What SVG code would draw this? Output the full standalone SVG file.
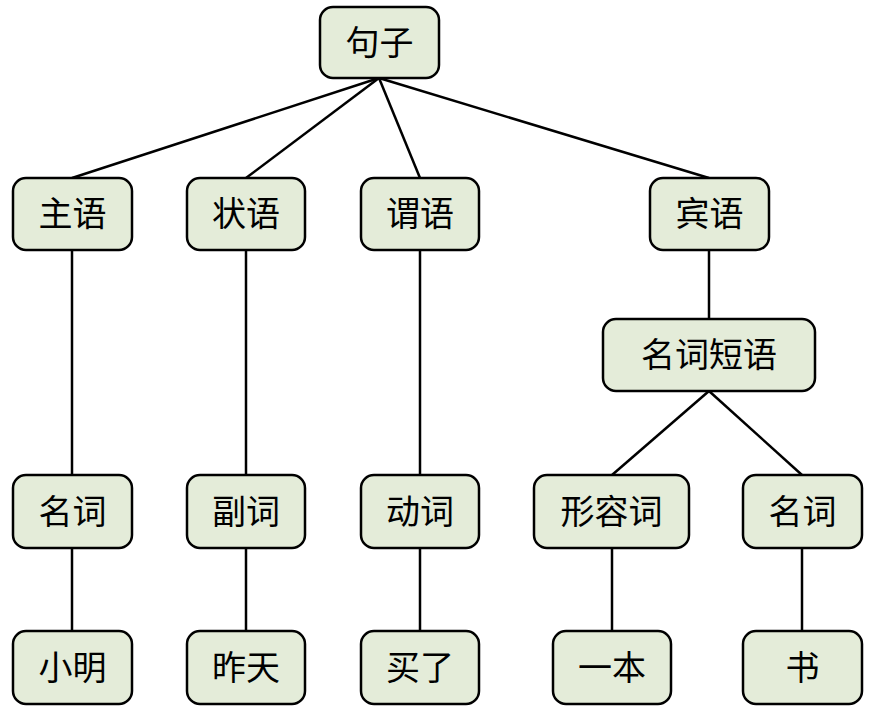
<svg xmlns="http://www.w3.org/2000/svg" width="876" height="718" viewBox="0 0 876 718">
<style>
.n rect{fill:#e4ecd9;stroke:#000;stroke-width:2.5}
.n text{font-family:"Noto Sans CJK SC","Liberation Sans",sans-serif;font-size:34px;fill:#000;text-anchor:middle;dominant-baseline:central}
#edges line{stroke:#000;stroke-width:2.5}
</style>
<rect width="876" height="718" fill="#fff"/>
<g id="edges">
<line x1="379" y1="78" x2="72" y2="178"/>
<line x1="379" y1="78" x2="246" y2="178"/>
<line x1="379" y1="78" x2="420" y2="178"/>
<line x1="379" y1="78" x2="709" y2="178"/>
<line x1="72" y1="250" x2="72" y2="475"/>
<line x1="246" y1="250" x2="246" y2="475"/>
<line x1="420" y1="250" x2="420" y2="475"/>
<line x1="709" y1="250" x2="709" y2="319"/>
<line x1="709" y1="391" x2="612" y2="475"/>
<line x1="709" y1="391" x2="802" y2="475"/>
<line x1="72" y1="548" x2="72" y2="631"/>
<line x1="246" y1="548" x2="246" y2="631"/>
<line x1="420" y1="548" x2="420" y2="631"/>
<line x1="612" y1="548" x2="612" y2="631"/>
<line x1="802" y1="548" x2="802" y2="631"/>
</g>
<g id="juzi" class="n"><rect x="320" y="7" width="119" height="71" rx="13"/><text x="379.5" y="40">句子</text></g>
<g id="zhuyu" class="n"><rect x="13" y="178" width="119" height="72" rx="13"/><text x="72.5" y="211.5">主语</text></g>
<g id="zhuangyu" class="n"><rect x="187" y="178" width="118" height="72" rx="13"/><text x="246" y="211.5">状语</text></g>
<g id="weiyu" class="n"><rect x="361" y="178" width="118" height="72" rx="13"/><text x="420" y="211.5">谓语</text></g>
<g id="binyu" class="n"><rect x="650" y="178" width="119" height="72" rx="13"/><text x="709.5" y="211.5">宾语</text></g>
<g id="mingciduanyu" class="n"><rect x="603" y="319" width="212" height="72" rx="13"/><text x="709" y="352.5">名词短语</text></g>
<g id="mingci1" class="n"><rect x="13" y="475" width="119" height="73" rx="13"/><text x="72.5" y="509">名词</text></g>
<g id="fuci" class="n"><rect x="187" y="475" width="118" height="73" rx="13"/><text x="246" y="509">副词</text></g>
<g id="dongci" class="n"><rect x="361" y="475" width="118" height="73" rx="13"/><text x="420" y="509">动词</text></g>
<g id="xingrongci" class="n"><rect x="534" y="475" width="155" height="73" rx="13"/><text x="611.5" y="509">形容词</text></g>
<g id="mingci2" class="n"><rect x="743" y="475" width="119" height="73" rx="13"/><text x="802.5" y="509">名词</text></g>
<g id="xiaoming" class="n"><rect x="13" y="631" width="119" height="73" rx="13"/><text x="72.5" y="665">小明</text></g>
<g id="zuotian" class="n"><rect x="187" y="631" width="118" height="73" rx="13"/><text x="246" y="665">昨天</text></g>
<g id="maile" class="n"><rect x="361" y="631" width="118" height="73" rx="13"/><text x="420" y="665">买了</text></g>
<g id="yiben" class="n"><rect x="553" y="631" width="118" height="73" rx="13"/><text x="612" y="665">一本</text></g>
<g id="shu" class="n"><rect x="743" y="631" width="119" height="73" rx="13"/><text x="802.5" y="665">书</text></g>
</svg>
